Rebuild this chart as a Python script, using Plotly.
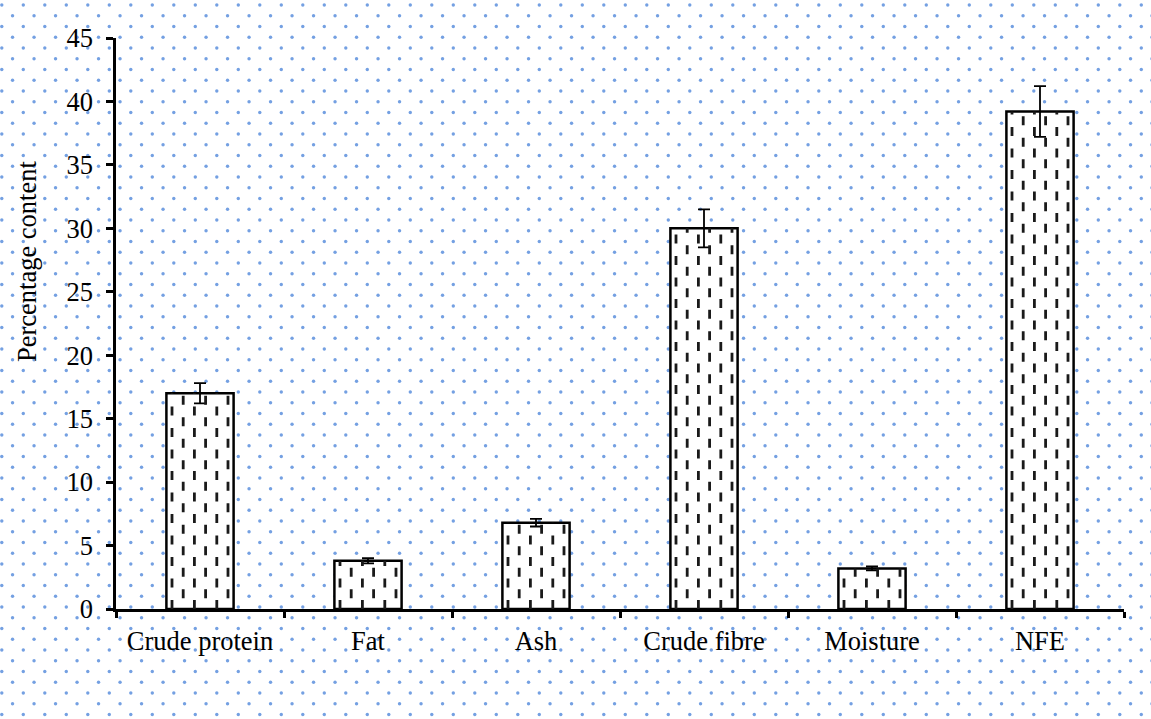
import numpy as np
import plotly.graph_objects as go

# Proximate composition (%), mean and standard deviation
categories = ["Crude protein", "Fat", "Ash", "Crude fibre", "Moisture", "NFE"]
values = [17.0, 3.8, 6.8, 30.0, 3.2, 39.2]
errors = [0.8, 0.2, 0.3, 1.5, 0.15, 2.0]
y_ticks = [0, 5, 10, 15, 20, 25, 30, 35, 40, 45]

W, H = 1151, 719
FONT = "Liberation Serif, Times New Roman, serif"
FS = 26.5
BAR_W = 0.4
N_COLS = 6

fig = go.Figure()

# Dotted page background (staggered lattice in pixel space)
dot_x, dot_y = [], []
for r, yy in enumerate(np.arange(5.0, H + 10, 10.75)):
    x0 = 1.8 if r % 2 == 0 else 12.55
    xs = np.arange(x0, W + 10, 21.5)
    dot_x.extend(xs)
    dot_y.extend([yy] * len(xs))
fig.add_trace(go.Scatter(
    x=dot_x, y=dot_y, mode="markers", xaxis="x", yaxis="y",
    marker=dict(size=3.4, color="#74a0e2", line=dict(width=0)),
    hoverinfo="skip", showlegend=False,
))

idx = list(range(len(categories)))

# Bars with error bars
fig.add_trace(go.Bar(
    x=idx, y=values, width=BAR_W, xaxis="x2", yaxis="y2",
    marker=dict(color="white", line=dict(color="black", width=2.5)),
    error_y=dict(type="data", array=errors, visible=True,
                 color="black", thickness=1.8, width=6),
    showlegend=False,
))

# Dashed vertical fill inside each bar, alternate columns phase-shifted
for phase, dash in ((0, "9px,12.5px"), (1, "0px,10.75px,9px,1.75px")):
    lx, ly = [], []
    for i, v in zip(idx, values):
        for k in range(phase, N_COLS, 2):
            xc = i - BAR_W / 2 + (k + 0.5) * BAR_W / N_COLS
            lx += [xc, xc, None]
            ly += [0, v, None]
    fig.add_trace(go.Scatter(
        x=lx, y=ly, mode="lines", xaxis="x2", yaxis="y2",
        line=dict(color="#1a1a1a", width=2.8, dash=dash),
        hoverinfo="skip", showlegend=False,
    ))

x_dom = [116 / W, 1124 / W]
y_dom = [(H - 609) / H, (H - 38) / H]

fig.update_layout(
    width=W, height=H,
    margin=dict(l=0, r=0, t=0, b=0, pad=0, autoexpand=False),
    paper_bgcolor="white",
    plot_bgcolor="rgba(0,0,0,0)",
    font=dict(family=FONT, size=FS, color="black"),
    xaxis=dict(domain=[0, 1], range=[0, W], visible=False, fixedrange=True,
               automargin=False),
    yaxis=dict(domain=[0, 1], range=[H, 0], visible=False, fixedrange=True,
               automargin=False),
    xaxis2=dict(
        domain=x_dom, anchor="y2", range=[-0.5, len(categories) - 0.5],
        tickmode="array", tickvals=idx, ticktext=categories, ticks="",
        minor=dict(tickvals=[i - 0.5 for i in range(len(categories) + 1)],
                   ticks="outside", ticklen=6, tickwidth=2.5, tickcolor="black"),
        showline=True, linecolor="black", linewidth=2.5,
        showgrid=False, zeroline=False, automargin=False,
        ticklabelstandoff=6,
        tickfont=dict(family=FONT, size=FS, color="black"),
    ),
    yaxis2=dict(
        domain=y_dom, anchor="x2", range=[0, 45],
        tickmode="array", tickvals=y_ticks,
        ticks="outside", ticklen=7, tickwidth=2.5, tickcolor="black",
        showline=True, linecolor="black", linewidth=2.5,
        showgrid=False, zeroline=False, automargin=False,
        ticklabelstandoff=8,
        tickfont=dict(family=FONT, size=FS, color="black"),
    ),
    annotations=[dict(
        text="Percentage content", textangle=-90,
        xref="paper", yref="paper", x=27 / W, y=1 - 262 / H,
        xanchor="center", yanchor="middle", showarrow=False,
        font=dict(family=FONT, size=FS, color="black"),
    )],
    bargap=0.6,
)

fig.write_html("out.html")
